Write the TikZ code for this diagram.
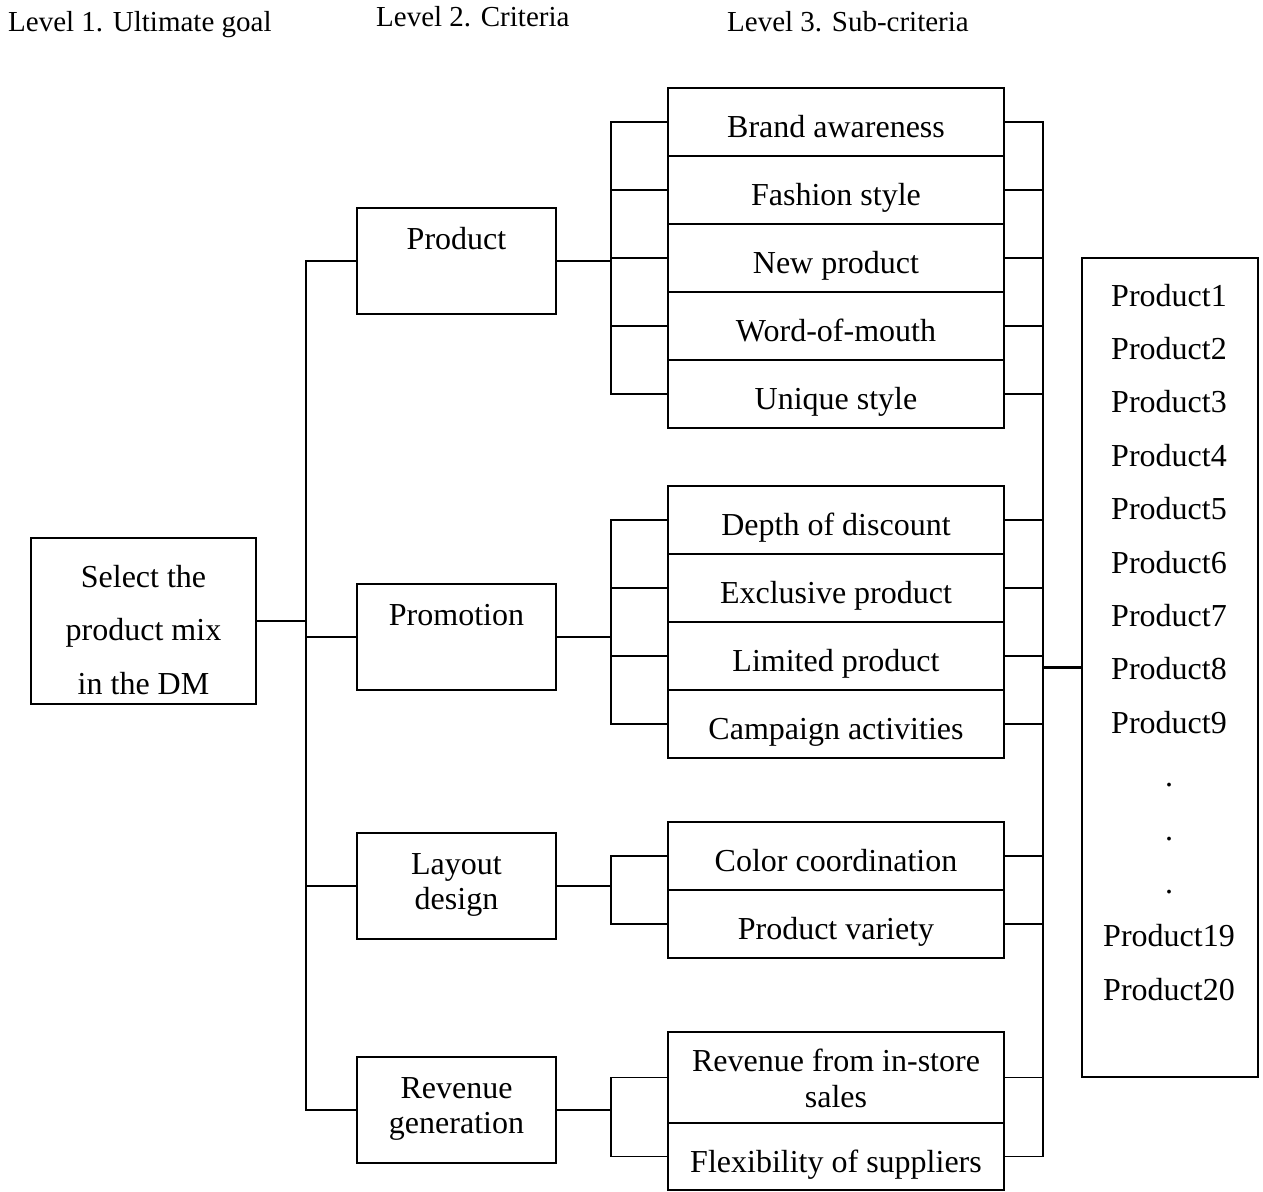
\documentclass[tikz,border=0pt]{standalone}
\usepackage{fontspec}
\setmainfont{Liberation Serif}
\begin{document}
\begin{tikzpicture}[x=1pt,y=-1pt,
  box/.style={draw,line width=1.7pt,rectangle,inner sep=0pt,outer sep=0pt},
  crit/.style={box,minimum width=199pt,minimum height=106pt},
  subbox/.style={box,minimum width=336pt,minimum height=68pt},
  txt/.style={inner sep=0pt,anchor=base,font=\fontsize{32}{38}\selectfont},
  hdr/.style={inner sep=0pt,anchor=base west,font=\fontsize{29}{34}\selectfont},
  conn/.style={line width=1.7pt},
  bold conn/.style={line width=2.8pt}]
\useasboundingbox (0,0) rectangle (1263,1191);

% headers
\node[hdr] (h1) at (8,31) {Level 1. Ultimate goal};
\node[hdr] (h2) at (376,26) {Level 2. Criteria};
\node[hdr] (h3) at (727,31) {Level 3. Sub-criteria};

% goal
\node[box,minimum width=225pt,minimum height=166pt] (goal) at (143.5,621) {};
\node[txt] (g1) at (143.5,587) {Select the};
\node[txt] (g2) at (143.5,640.5) {product mix};
\node[txt] (g3) at (143.5,694) {in the DM};

% criteria
\node[crit] (prod) at (456.5,261) {};
\node[txt] (prodt) at (456.5,249) {Product};
\node[crit] (prom) at (456.5,637) {};
\node[txt] (promt) at (456.5,625) {Promotion};
\node[crit] (lay) at (456.5,886) {};
\node[txt] (layt1) at (456.5,874) {Layout};
\node[txt] (layt2) at (456.5,909) {design};
\node[crit] (rev) at (456.5,1110) {};
\node[txt] (revt1) at (456.5,1098) {Revenue};
\node[txt] (revt2) at (456.5,1133) {generation};

% sub-criteria
\foreach \n/\y/\t in {1/122/Brand awareness, 2/190/Fashion style, 3/258/New product,
  4/326/Word-of-mouth, 5/394/Unique style, 6/520/Depth of discount,
  7/588/Exclusive product, 8/656/Limited product, 9/724/Campaign activities,
  10/856/Color coordination, 11/924/Product variety}{
  \node[subbox] (s\n) at (836,\y) {};
  \node[txt] (st\n) at (836,\y+15) {\t};
}
\node[subbox,minimum height=91pt] (s12) at (836,1077.5) {};
\node[txt] (st12a) at (836,1071) {Revenue from in-store};
\node[txt] (st12b) at (836,1107) {sales};
\node[subbox,minimum height=67pt] (s13) at (836,1156.5) {};
\node[txt] (st13) at (836,1172) {Flexibility of suppliers};

% alternatives
\node[box,minimum width=176pt,minimum height=819pt] (prods) at (1170,667.5) {};
\foreach \k/\t in {0/Product1,1/Product2,2/Product3,3/Product4,4/Product5,
  5/Product6,6/Product7,7/Product8,8/Product9,9/.,10/.,11/.,12/Product19,13/Product20}{
  \node[txt] (p\k) at (1169,306+53.4*\k) {\t};
}

% connectors level 1 -> 2
\coordinate (spine) at (306,621);
\draw[bold conn] (goal.east) -- (spine);
\draw[conn] (prod.west) -| (spine) |- (rev.west);
\draw[conn] (prom.west) -- (prom.west -| spine);
\draw[conn] (lay.west) -- (lay.west -| spine);

% connectors level 2 -> 3
\coordinate (j1) at (611,261);
\coordinate (j2) at (611,637);
\coordinate (j3) at (611,886);
\coordinate (j4) at (611,1110);
\draw[bold conn] (prod.east) -- (j1);
\draw[bold conn] (prom.east) -- (j2);
\draw[bold conn] (lay.east) -- (j3);
\draw[bold conn] (rev.east) -- (j4);
\draw[conn] (s1.west) -| (j1) |- (s5.west);
\foreach \n in {2,3,4}{\draw[conn] (s\n.west) -- (s\n.west -| j1);}
\draw[conn] (s6.west) -| (j2) |- (s9.west);
\foreach \n in {7,8}{\draw[conn] (s\n.west) -- (s\n.west -| j2);}
\draw[conn] (s10.west) -| (j3) |- (s11.west);
\draw[conn] (s12.west) -| (j4) |- (s13.west);

% connectors level 3 -> alternatives
\coordinate (rj) at (1043,667.5);
\draw[conn] (s1.east) -| (rj) |- (s13.east);
\foreach \n in {2,...,12}{\draw[conn] (s\n.east) -- (s\n.east -| rj);}
\draw[bold conn] (prods.west) -- (rj);
\end{tikzpicture}
\end{document}
